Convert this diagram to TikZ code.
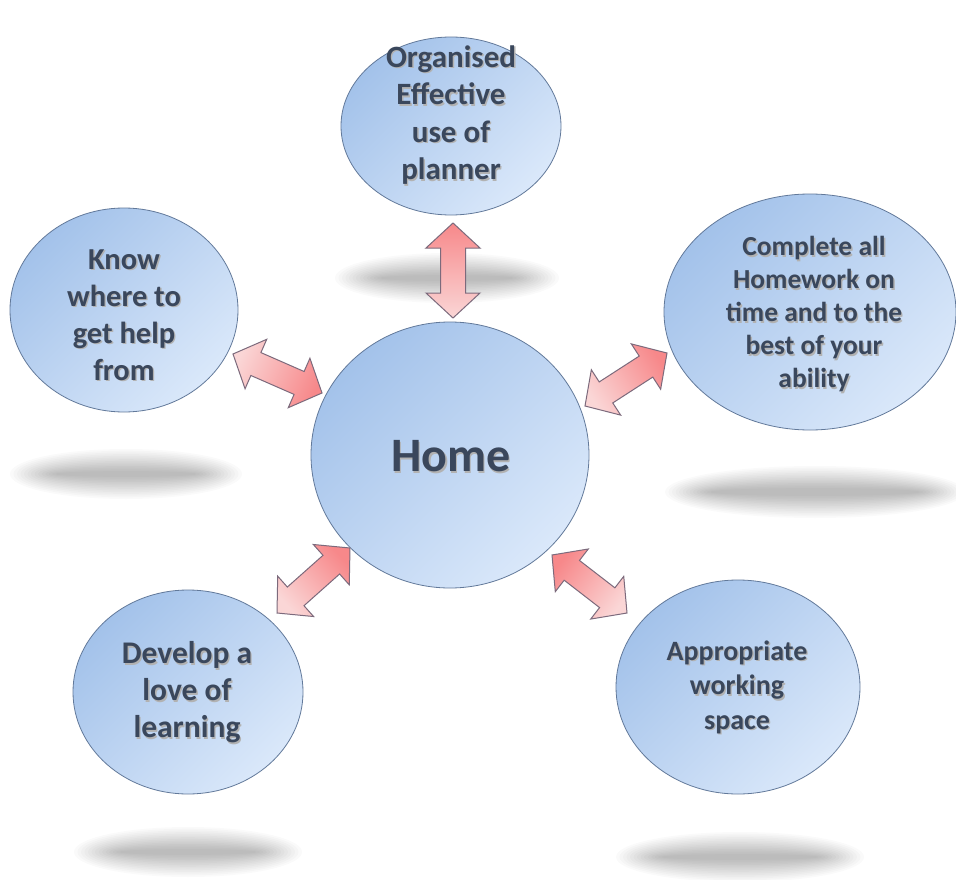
\documentclass[tikz,border=0pt]{standalone}
\usepackage{fontspec}
\setmainfont{Carlito}
\usetikzlibrary{shapes.geometric,calc}
\definecolor{bubdark}{HTML}{A3C2EA}
\definecolor{bublight}{HTML}{DAE8FA}
\definecolor{bubline}{HTML}{62799A}
\definecolor{arrred}{HTML}{F7888A}
\definecolor{arrpink}{HTML}{FAD6D6}
\definecolor{arrline}{HTML}{7C6A7C}
\definecolor{txt}{HTML}{3A475C}
\newcommand\shd[1]{\makebox[0pt][l]{\hspace{1.4pt}\raisebox{-1.4pt}{\color{black!30}#1}}#1}
\newcommand\dblarrow[2]{%
  \pgfpointdiff{\pgfpointanchor{#1}{center}}{\pgfpointanchor{#2}{center}}%
  \pgfgetlastxy{\adx}{\ady}%
  \pgfmathsetmacro\aang{atan2(\ady,\adx)}%
  \pgfmathsetmacro\alen{veclen(\adx,\ady)}%
  \pgfmathsetmacro\aperp{\aang+90}%
  \pgfmathsetmacro\ashade{\aang-90}%
  \pgfmathsetmacro\afar{\alen-25}%
  \shade[blockarrow, shading angle=\ashade]
    (#1) -- ($(#1)+(\aang:25pt)+(\aperp:27pt)$) -- ($(#1)+(\aang:25pt)+(\aperp:12.5pt)$)
    -- ($(#1)+(\aang:\afar pt)+(\aperp:12.5pt)$) -- ($(#1)+(\aang:\afar pt)+(\aperp:27pt)$)
    -- (#2) -- ($(#1)+(\aang:\afar pt)+(\aperp:-27pt)$) -- ($(#1)+(\aang:\afar pt)+(\aperp:-12.5pt)$)
    -- ($(#1)+(\aang:25pt)+(\aperp:-12.5pt)$) -- ($(#1)+(\aang:25pt)+(\aperp:-27pt)$) -- cycle;
}
\newcommand\softshadow[4]{%
  \foreach \k in {0,...,13}{%
    \fill[black, opacity=0.019] (#1,#2) ellipse [x radius={#3pt-3.5pt*\k}, y radius={#4pt-1.7pt*\k}];
  }%
}
\tikzset{
  bubble/.style={ellipse, draw=bubline, line width=0.8pt, top color=bubdark, bottom color=bublight, shading angle=45, inner sep=0pt},
  bubtext/.style={text=txt, font=\fontsize{27.5}{34.5}\selectfont\bfseries, align=center, inner sep=0pt},
  bigtext/.style={bubtext, font=\fontsize{31}{37.5}\selectfont\bfseries},
  blockarrow/.style={draw=arrline, line width=1pt, line join=miter, top color=arrred, bottom color=arrpink},
}
\begin{document}
\begin{tikzpicture}[x=1pt,y=-1pt]
\useasboundingbox (0,0) rectangle (956,880);
\fill[white] (0,0) rectangle (956,880);
% shadows
\softshadow{447}{278}{112}{25}
\softshadow{126}{474}{116}{25}
\softshadow{815}{492}{150}{26}
\softshadow{188}{852}{114}{25}
\softshadow{740}{857}{124}{25}
% bubbles
\node[bubble, minimum width=220pt, minimum height=178pt] (plan) at (451,126) {};
\node[bubble, minimum width=278pt, minimum height=266pt] (home) at (450,455) {};
\node[bubble, minimum width=228pt, minimum height=204pt] (help) at (124,310) {};
\node[bubble, minimum width=292pt, minimum height=236pt] (hw) at (810,312) {};
\node[bubble, minimum width=230pt, minimum height=204pt] (love) at (188,692) {};
\node[bubble, minimum width=244pt, minimum height=214pt] (space) at (738,687) {};
% arrows
\coordinate (aT1) at (453,318); \coordinate (aT2) at (453,223);
\coordinate (aL1) at (233,354); \coordinate (aL2) at (322,393);
\coordinate (aR1) at (585,406); \coordinate (aR2) at (667,353);
\coordinate (aBL1) at (277,613); \coordinate (aBL2) at (350,548);
\coordinate (aBR1) at (627,613); \coordinate (aBR2) at (552,555);
\dblarrow{aT1}{aT2}
\dblarrow{aL1}{aL2}
\dblarrow{aR1}{aR2}
\dblarrow{aBL1}{aBL2}
\dblarrow{aBR1}{aBR2}
% texts
\node[bubtext, font=\fontsize{48}{50}\selectfont\bfseries] (homeT) at (451,457) {\shd{Home}};
\node[bigtext] (planT) at (451,116) {\shd{Organised}\\\shd{Effective}\\\shd{use of}\\\shd{planner}};
\node[bigtext, font=\fontsize{30.5}{37}\selectfont\bfseries] (helpT) at (124,316) {\shd{Know}\\\shd{where to}\\\shd{get help}\\\shd{from}};
\node[bubtext, font=\fontsize{27.5}{33}\selectfont\bfseries] (hwT) at (814,315) {\shd{Complete all}\\\shd{Homework on}\\\shd{time and to the}\\\shd{best of your}\\\shd{ability}};
\node[bigtext, font=\fontsize{31.5}{37}\selectfont\bfseries] (loveT) at (187,693) {\shd{Develop a}\\\shd{love of}\\\shd{learning}};
\node[bubtext, font=\fontsize{28}{34.5}\selectfont\bfseries] (spaceT) at (737,688) {\shd{Appropriate}\\\shd{working}\\\shd{space}};
\end{tikzpicture}
\end{document}
